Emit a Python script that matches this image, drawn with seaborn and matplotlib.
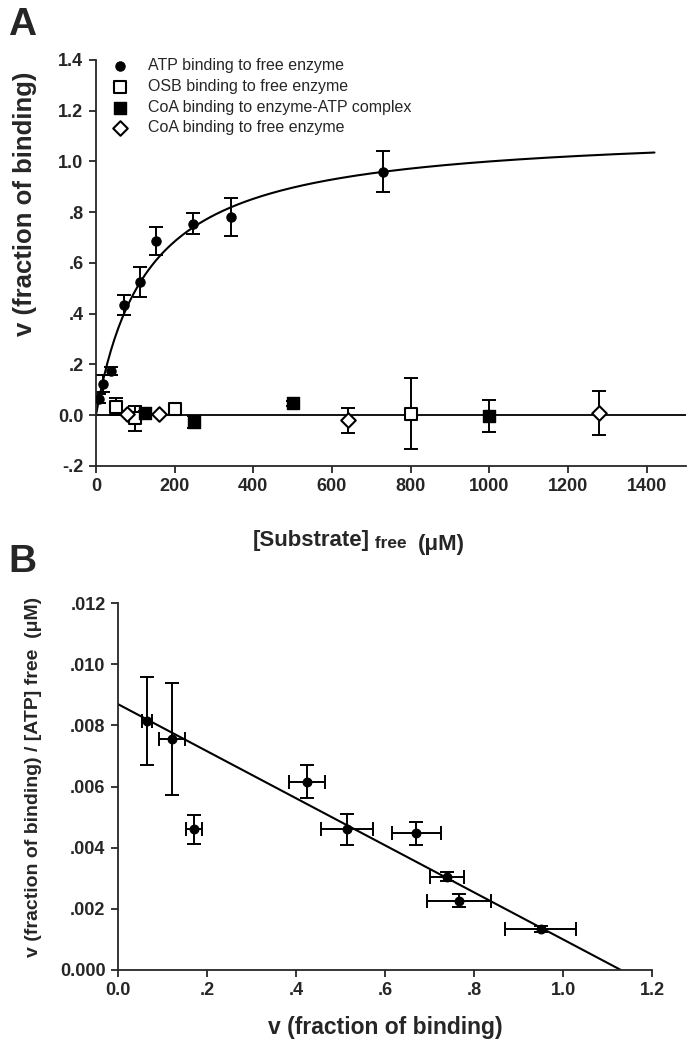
import numpy as np
import seaborn as sns
import matplotlib.pyplot as plt
from matplotlib.ticker import FuncFormatter, MultipleLocator

# --- Panel A: fraction of binding vs free substrate (uM) ---
atp_conc = [8, 17, 39, 70, 113, 153, 247, 343, 730]
atp_v = [0.065, 0.125, 0.175, 0.435, 0.525, 0.685, 0.755, 0.78, 0.96]
atp_err = [0.018, 0.035, 0.016, 0.04, 0.06, 0.055, 0.04, 0.075, 0.08]

osb_conc = [50, 100, 200, 800]
osb_v = [0.034, -0.012, 0.026, 0.006]
osb_err = [0.034, 0.05, 0.018, 0.14]

coa_atp_conc = [125, 250, 500, 1000]
coa_atp_v = [0.008, -0.028, 0.047, -0.004]
coa_atp_err = [0.008, 0.024, 0.01, 0.063]

coa_free_conc = [80, 160, 640, 1280]
coa_free_v = [0.004, 0.004, -0.02, 0.008]
coa_free_err = [0.0, 0.0, 0.05, 0.087]

# hyperbolic fit parameters
bmax = 1.13
kd = 130.0
fit_end = 1420

# --- Panel B: Scatchard plot for ATP ---
scat_v = [0.065, 0.121, 0.171, 0.425, 0.515, 0.670, 0.739, 0.766, 0.950]
scat_vx_err = [0.011, 0.03, 0.018, 0.04, 0.058, 0.055, 0.038, 0.072, 0.08]
scat_ratio = [0.00814, 0.00755, 0.0046, 0.00616, 0.0046, 0.00447, 0.00305, 0.00227, 0.00133]
scat_ratio_err = [0.00144, 0.00182, 0.00047, 0.00055, 0.0005, 0.00038, 0.00015, 0.00021, 0.0001]

sns.set_style("ticks")
plt.rcParams["font.family"] = ["Liberation Sans", "DejaVu Sans"]
plt.rcParams["font.weight"] = "bold"
plt.rcParams["axes.linewidth"] = 1.3


def strip_zero(decimals):
    def f(val, pos):
        if abs(val) < 1e-12:
            return f"{0:.{decimals}f}"
        s = f"{val:.{decimals}f}"
        s = s.replace("-0.", "-.")
        if s.startswith("0."):
            s = s[1:]
        return s
    return FuncFormatter(f)


fig = plt.figure(figsize=(6.91, 10.5), dpi=100)
ax_a = fig.add_axes([0.1389, 0.5562, 0.8538, 0.3867])
ax_b = fig.add_axes([0.1708, 0.0762, 0.7728, 0.3495])

eb = dict(fmt="none", ecolor="black", elinewidth=1.4, capsize=5, capthick=1.4, zorder=2)

# ---------------- Panel A ----------------
ax_a.axhline(0, color="black", lw=1.3, zorder=1)
s_fit = np.linspace(0, fit_end, 300)
sns.lineplot(x=s_fit, y=bmax * s_fit / (kd + s_fit), color="black", lw=1.5, ax=ax_a, zorder=2)

ax_a.errorbar(atp_conc, atp_v, yerr=atp_err, **eb)
ax_a.errorbar(osb_conc, osb_v, yerr=osb_err, **eb)
ax_a.errorbar(coa_atp_conc, coa_atp_v, yerr=coa_atp_err, **eb)
ax_a.errorbar(coa_free_conc, coa_free_v, yerr=coa_free_err, **eb)

sns.scatterplot(x=atp_conc, y=atp_v, marker="o", s=45, color="black", edgecolor="black",
                linewidth=0.8, ax=ax_a, zorder=4, label="ATP binding to free enzyme")
sns.scatterplot(x=osb_conc, y=osb_v, marker="s", s=70, color="white", edgecolor="black",
                linewidth=1.5, ax=ax_a, zorder=4, label="OSB binding to free enzyme")
sns.scatterplot(x=coa_atp_conc, y=coa_atp_v, marker="s", s=70, color="black", edgecolor="black",
                linewidth=1.0, ax=ax_a, zorder=4, label="CoA binding to enzyme-ATP complex")
sns.scatterplot(x=coa_free_conc, y=coa_free_v, marker="D", s=55, color="white", edgecolor="black",
                linewidth=1.5, ax=ax_a, zorder=4, label="CoA binding to free enzyme")

ax_a.set_xlim(0, 1500)
ax_a.set_ylim(-0.2, 1.4)
ax_a.xaxis.set_major_locator(MultipleLocator(200))
ax_a.yaxis.set_major_locator(MultipleLocator(0.2))
ax_a.yaxis.set_major_formatter(strip_zero(1))
ax_a.set_xlabel("")
ax_a.set_ylabel("v (fraction of binding)", fontsize=18.5, fontweight="bold")
ax_a.yaxis.set_label_coords(-0.1, 0.645)

ax_a.legend(loc="upper left", bbox_to_anchor=(0.017, 1.02), frameon=False,
            prop={"size": 11.5, "weight": "normal"}, handlelength=1.0, handletextpad=1.2,
            labelspacing=0.36, borderaxespad=0)

# x label with smaller "free"
t1 = fig.text(0.366, 0.48, "[Substrate]", fontsize=16, fontweight="bold")
t2 = ax_a.annotate(" free", xy=(1, 0), xycoords=t1, va="bottom", fontsize=12.5, fontweight="bold")
ax_a.annotate("(\u03bcM)", xy=(1, 0), xycoords=t2, xytext=(8, -3), textcoords="offset points",
              va="bottom", fontsize=16, fontweight="bold")

# ---------------- Panel B ----------------
v_line = np.array([0.0, bmax])
sns.lineplot(x=v_line, y=(bmax - v_line) / kd, color="black", lw=1.5, ax=ax_b, zorder=2)
ax_b.errorbar(scat_v, scat_ratio, xerr=scat_vx_err, yerr=scat_ratio_err, **eb)
sns.scatterplot(x=scat_v, y=scat_ratio, marker="o", s=40, color="black", edgecolor="black",
                linewidth=0.8, ax=ax_b, zorder=4)

ax_b.set_xlim(0, 1.2)
ax_b.set_ylim(0, 0.012)
ax_b.xaxis.set_major_locator(MultipleLocator(0.2))
ax_b.yaxis.set_major_locator(MultipleLocator(0.002))
ax_b.xaxis.set_major_formatter(strip_zero(1))
ax_b.yaxis.set_major_formatter(strip_zero(3))
ax_b.set_xlabel("v (fraction of binding)", fontsize=16.5, fontweight="bold", labelpad=12)
ax_b.set_ylabel("v (fraction of binding) / [ATP] free  (\u03bcM)", fontsize=14,
                fontweight="bold")
ax_b.yaxis.set_label_coords(-0.142, 0.525)

for ax in (ax_a, ax_b):
    sns.despine(ax=ax)
    ax.tick_params(direction="out", length=5, width=1.3, labelsize=13, pad=4)

fig.text(0.012, 0.993, "A", fontsize=28, fontweight="bold", va="top")
fig.text(0.012, 1 - 580 / 1050, "B", fontsize=28, fontweight="bold", va="bottom")

fig.savefig("out.png", dpi=100)
